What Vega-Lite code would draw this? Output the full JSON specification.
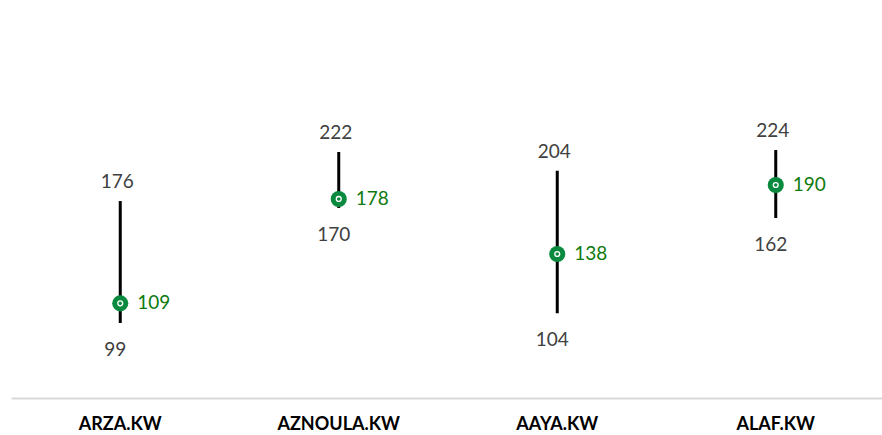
{
  "$schema": "https://vega.github.io/schema/vega-lite/v6.json",
  "width": 874,
  "height": 398,
  "padding": {"left": 11, "top": 0, "right": 0, "bottom": 37},
  "autosize": {"type": "none"},
  "background": "white",
  "config": {"view": {"stroke": null}, "font": "Lato"},
  "data": {
    "values": [
      {"ticker": "ARZA.KW", "low": 50, "high": 131.3, "price": 63.1, "lowLabel": "99", "highLabel": "176", "priceLabel": "109"},
      {"ticker": "AZNOULA.KW", "low": 126.7, "high": 164, "price": 132.7, "lowLabel": "170", "highLabel": "222", "priceLabel": "178"},
      {"ticker": "AAYA.KW", "low": 56.5, "high": 151.5, "price": 96, "lowLabel": "104", "highLabel": "204", "priceLabel": "138"},
      {"ticker": "ALAF.KW", "low": 120, "high": 165.3, "price": 142, "lowLabel": "162", "highLabel": "224", "priceLabel": "190"}
    ]
  },
  "encoding": {
    "x": {
      "field": "ticker", "type": "nominal", "sort": null,
      "scale": {"paddingInner": 0, "paddingOuter": 0},
      "axis": {
        "title": null, "labelAngle": 0, "ticks": false,
        "domainColor": "#d9d9d9", "domainWidth": 2,
        "labelFont": "Lato", "labelFontSize": 18, "labelFontWeight": "bold",
        "labelColor": "#000000", "labelPadding": 26, "labelBaseline": "middle"
      }
    }
  },
  "layer": [
    {
      "mark": {"type": "rule", "color": "#000000", "strokeWidth": 3},
      "encoding": {
        "y": {"field": "low", "type": "quantitative", "scale": {"domain": [0, 265.33], "nice": false, "zero": true}, "axis": null},
        "y2": {"field": "high"}
      }
    },
    {
      "mark": {"type": "point", "shape": "circle", "filled": true, "color": "#0A8A3E", "size": 260, "opacity": 1},
      "encoding": {"y": {"field": "price", "type": "quantitative"}}
    },
    {
      "mark": {"type": "point", "shape": "circle", "filled": false, "stroke": "#ffffff", "strokeWidth": 1.3, "size": 24, "opacity": 1},
      "encoding": {"y": {"field": "price", "type": "quantitative"}}
    },
    {
      "mark": {"type": "text", "font": "Lato", "fontSize": 19, "color": "#404040", "baseline": "middle", "dy": -19, "dx": -3},
      "encoding": {"y": {"field": "high", "type": "quantitative"}, "text": {"field": "highLabel"}}
    },
    {
      "mark": {"type": "text", "font": "Lato", "fontSize": 19, "color": "#404040", "baseline": "middle", "dy": 27, "dx": -5},
      "encoding": {"y": {"field": "low", "type": "quantitative"}, "text": {"field": "lowLabel"}}
    },
    {
      "mark": {"type": "text", "font": "Lato", "fontSize": 19, "color": "#0E7A0E", "baseline": "middle", "align": "left", "dx": 17},
      "encoding": {"y": {"field": "price", "type": "quantitative"}, "text": {"field": "priceLabel"}}
    }
  ]
}
